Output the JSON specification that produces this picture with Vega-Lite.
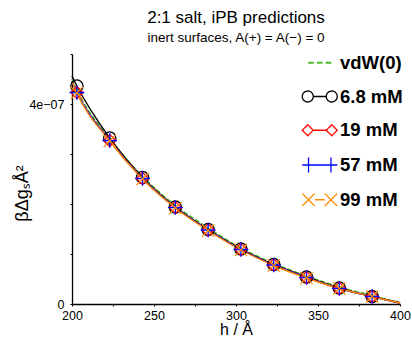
{
  "$schema": "https://vega.github.io/schema/vega-lite/v6.json",
  "width": 328,
  "height": 250,
  "autosize": "none",
  "padding": {"left": 72, "top": 54, "right": 12, "bottom": 34},
  "background": "white",
  "config": {
    "font": "Liberation Sans",
    "view": {"stroke": null},
    "axis": {
      "domainColor": "black", "domainWidth": 1.3,
      "tickColor": "black", "tickWidth": 1, "tickSize": 2,
      "labelColor": "black", "labelFontSize": 12.5, "labelFont": "Liberation Sans",
      "titleColor": "black", "titleFontWeight": "normal", "titleFont": "Liberation Sans",
      "grid": false
    }
  },
  "title": {
    "text": "2:1 salt, iPB predictions",
    "subtitle": "inert surfaces, A(+) = A(−) = 0",
    "fontSize": 17, "fontWeight": "normal", "color": "black",
    "subtitleFontSize": 13.5, "subtitleColor": "black",
    "subtitlePadding": 4,
    "anchor": "middle", "offset": 8
  },
  "data": {
    "values": [
      {"series": "vdW(0)", "h": 200, "v": 4.50e-7},
      {"series": "vdW(0)", "h": 203, "v": 4.28e-7},
      {"series": "vdW(0)", "h": 223, "v": 3.31e-7},
      {"series": "vdW(0)", "h": 243, "v": 2.55e-7},
      {"series": "vdW(0)", "h": 263, "v": 1.97e-7},
      {"series": "vdW(0)", "h": 283, "v": 1.52e-7},
      {"series": "vdW(0)", "h": 303, "v": 1.12e-7},
      {"series": "vdW(0)", "h": 323, "v": 0.81e-7},
      {"series": "vdW(0)", "h": 343, "v": 0.56e-7},
      {"series": "vdW(0)", "h": 363, "v": 0.34e-7},
      {"series": "vdW(0)", "h": 383, "v": 0.17e-7},
      {"series": "vdW(0)", "h": 400, "v": 0.03e-7},
      {"series": "6.8 mM", "h": 200, "v": 4.56e-7},
      {"series": "6.8 mM", "h": 203, "v": 4.36e-7},
      {"series": "6.8 mM", "h": 223, "v": 3.32e-7},
      {"series": "6.8 mM", "h": 243, "v": 2.53e-7},
      {"series": "6.8 mM", "h": 263, "v": 1.94e-7},
      {"series": "6.8 mM", "h": 283, "v": 1.49e-7},
      {"series": "6.8 mM", "h": 303, "v": 1.10e-7},
      {"series": "6.8 mM", "h": 323, "v": 0.79e-7},
      {"series": "6.8 mM", "h": 343, "v": 0.54e-7},
      {"series": "6.8 mM", "h": 363, "v": 0.32e-7},
      {"series": "6.8 mM", "h": 383, "v": 0.15e-7},
      {"series": "6.8 mM", "h": 400, "v": 0.02e-7},
      {"series": "19 mM", "h": 200, "v": 4.45e-7},
      {"series": "19 mM", "h": 203, "v": 4.23e-7},
      {"series": "19 mM", "h": 223, "v": 3.27e-7},
      {"series": "19 mM", "h": 243, "v": 2.51e-7},
      {"series": "19 mM", "h": 263, "v": 1.93e-7},
      {"series": "19 mM", "h": 283, "v": 1.48e-7},
      {"series": "19 mM", "h": 303, "v": 1.09e-7},
      {"series": "19 mM", "h": 323, "v": 0.78e-7},
      {"series": "19 mM", "h": 343, "v": 0.53e-7},
      {"series": "19 mM", "h": 363, "v": 0.31e-7},
      {"series": "19 mM", "h": 383, "v": 0.15e-7},
      {"series": "19 mM", "h": 400, "v": 0.02e-7},
      {"series": "57 mM", "h": 200, "v": 4.45e-7},
      {"series": "57 mM", "h": 203, "v": 4.23e-7},
      {"series": "57 mM", "h": 223, "v": 3.27e-7},
      {"series": "57 mM", "h": 243, "v": 2.51e-7},
      {"series": "57 mM", "h": 263, "v": 1.93e-7},
      {"series": "57 mM", "h": 283, "v": 1.48e-7},
      {"series": "57 mM", "h": 303, "v": 1.09e-7},
      {"series": "57 mM", "h": 323, "v": 0.78e-7},
      {"series": "57 mM", "h": 343, "v": 0.53e-7},
      {"series": "57 mM", "h": 363, "v": 0.31e-7},
      {"series": "57 mM", "h": 383, "v": 0.15e-7},
      {"series": "57 mM", "h": 400, "v": 0.02e-7},
      {"series": "99 mM", "h": 200, "v": 4.45e-7},
      {"series": "99 mM", "h": 203, "v": 4.22e-7},
      {"series": "99 mM", "h": 223, "v": 3.26e-7},
      {"series": "99 mM", "h": 243, "v": 2.50e-7},
      {"series": "99 mM", "h": 263, "v": 1.92e-7},
      {"series": "99 mM", "h": 283, "v": 1.47e-7},
      {"series": "99 mM", "h": 303, "v": 1.08e-7},
      {"series": "99 mM", "h": 323, "v": 0.77e-7},
      {"series": "99 mM", "h": 343, "v": 0.52e-7},
      {"series": "99 mM", "h": 363, "v": 0.31e-7},
      {"series": "99 mM", "h": 383, "v": 0.15e-7},
      {"series": "99 mM", "h": 400, "v": 0.02e-7}
    ]
  },
  "encoding": {
    "x": {
      "field": "h", "type": "quantitative",
      "scale": {"domain": [200, 400], "nice": false, "zero": false},
      "axis": {
        "title": "h / Å", "titleFontSize": 16, "titlePadding": 0,
        "values": [200, 225, 250, 275, 300, 325, 350, 375, 400],
        "labelExpr": "datum.value % 50 === 0 ? datum.label : ''",
        "labelFlush": false, "labelPadding": 3
      }
    },
    "y": {
      "field": "v", "type": "quantitative",
      "scale": {"domain": [0, 5e-7], "nice": false},
      "axis": {
        "title": "βΔgₛÅ²", "titleFontSize": 18,
        "titleX": -50, "titleY": 139, "titleBaseline": "middle", "titleAngle": -90, "titleAlign": "center",
        "values": [0, 1e-7, 2e-7, 3e-7, 4e-7, 5e-7],
        "labelExpr": "datum.value === 0 ? '0' : (abs(datum.value - 4e-7) < 1e-9 ? '4e−07' : '')",
        "labelPadding": 6
      }
    },
    "color": {
      "field": "series", "type": "nominal",
      "scale": {
        "domain": ["vdW(0)", "6.8 mM", "19 mM", "57 mM", "99 mM"],
        "range": ["#4cbb2b", "#000000", "#ff0000", "#0000ff", "#ff8c00"]
      },
      "legend": {
        "title": null,
        "orient": "none", "legendX": 232, "legendY": -0.5,
        "padding": 0,
        "symbolSize": 1089,
        "symbolOffset": 6.5,
        "rowPadding": 14.75,
        "labelOffset": 11,
        "labelFontSize": 18.5, "labelFontWeight": "bold", "labelColor": "black", "labelFont": "Liberation Sans",
        "labelLimit": 200,
        "encode": {
          "symbols": {
            "update": {
              "shape": {"signal": "datum.value === 'vdW(0)' ? 'M-0.7,0H-0.36M-0.17,0H0.17M0.36,0H0.7' : datum.value === '6.8 mM' ? 'M-0.394,0A0.333,0.333 0 1 1 -1.06,0A0.333,0.333 0 1 1 -0.394,0ZM-0.394,0H0.394M1.06,0A0.333,0.333 0 1 1 0.394,0A0.333,0.333 0 1 1 1.06,0Z' : datum.value === '19 mM' ? 'M-1.06,0L-0.727,-0.333L-0.394,0L-0.727,0.333ZM-0.394,0H0.394M0.394,0L0.727,-0.333L1.06,0L0.727,0.333Z' : datum.value === '57 mM' ? 'M-1.06,0H1.06M-0.68,-0.45V0.45M0.68,-0.45V0.45' : 'M-1.06,-0.38L-0.3,0.38M-1.06,0.38L-0.3,-0.38M-0.3,0H0.3M0.3,-0.38L1.06,0.38M0.3,0.38L1.06,-0.38'"},
              "fill": {"value": "transparent"},
              "stroke": {"scale": "color", "field": "value"},
              "strokeWidth": {"signal": "datum.value === 'vdW(0)' ? 2.2 : 1.3"},
              "strokeDash": {"value": [1, 0]},
              "opacity": {"value": 1}
            }
          }
        }
      }
    }
  },
  "layer": [
    {
      "transform": [{"filter": "datum.series === 'vdW(0)'"}],
      "mark": {"type": "line", "strokeWidth": 1.6, "strokeDash": [5, 2], "interpolate": "monotone"}
    },
    {
      "transform": [{"filter": "datum.series !== 'vdW(0)'"}],
      "mark": {"type": "line", "strokeWidth": 1.4, "interpolate": "monotone"}
    },
    {
      "transform": [{"filter": "datum.series !== 'vdW(0)' && datum.h > 200 && datum.h < 400"}],
      "mark": {"type": "point", "filled": false, "size": 150, "strokeWidth": 1.3, "opacity": 1},
      "encoding": {
        "shape": {
          "field": "series", "type": "nominal",
          "scale": {
            "domain": ["6.8 mM", "19 mM", "57 mM", "99 mM"],
            "range": ["circle", "diamond", "M-1.2,0H1.2M0,-1.2V1.2", "M-1,-1L1,1M-1,1L1,-1"]
          },
          "legend": null
        }
      }
    }
  ]
}
